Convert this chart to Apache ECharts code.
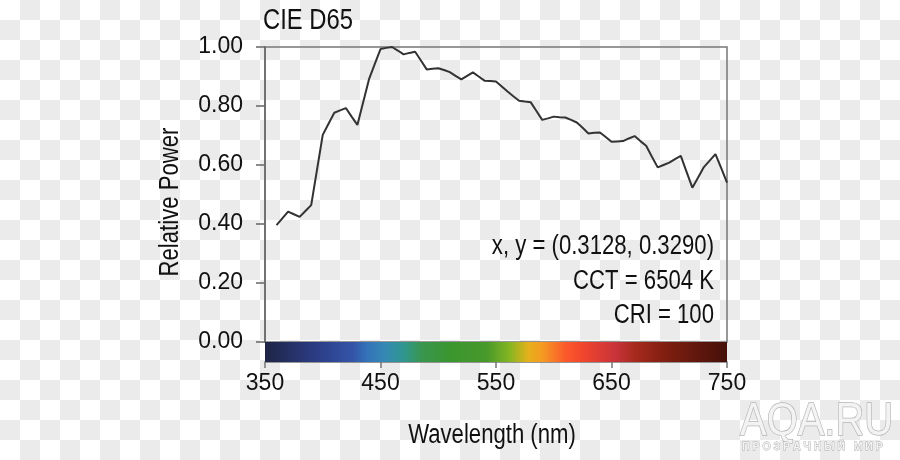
<!DOCTYPE html>
<html>
<head>
<meta charset="utf-8">
<script src="https://cdn.jsdelivr.net/npm/echarts@6/dist/echarts.min.js"></script>
<style>
html,body{margin:0;padding:0;}
body{width:900px;height:460px;background:repeating-conic-gradient(#ebebeb 0 25%, #ffffff 0 50%) 0 0/40px 40px;}
#c{width:900px;height:460px;}
</style>
</head>
<body>
<div id="c"></div>
<script>
// ---- data ----
const wavelengths = [360,365,370,375,380,385,390,395,400,405,410,415,420,425,430,435,440,445,450,455,
  460,465,470,475,480,485,490,495,500,505,510,515,520,525,530,535,540,545,550,555,
  560,565,570,575,580,585,590,595,600,605,610,615,620,625,630,635,640,645,650,655,
  660,665,670,675,680,685,690,695,700,705,710,715,720,725,730,735,740,745,750];
const relPower = [0.396,0.419,0.442,0.433,0.424,0.444,0.464,0.583,0.702,0.740,0.777,0.785,0.793,0.764,0.736,0.813,0.890,0.942,0.993,0.997,
  1.000,0.988,0.975,0.980,0.984,0.954,0.924,0.926,0.928,0.922,0.915,0.902,0.890,0.902,0.914,0.900,0.886,0.885,0.883,0.866,
  0.849,0.833,0.818,0.815,0.813,0.783,0.753,0.758,0.764,0.762,0.761,0.753,0.744,0.726,0.707,0.709,0.710,0.695,0.679,0.680,
  0.681,0.690,0.698,0.681,0.665,0.628,0.592,0.600,0.608,0.620,0.631,0.577,0.523,0.558,0.593,0.615,0.637,0.589,0.540];
const xTicks = [350, 450, 550, 650, 750];
const yTicks = [0.00, 0.20, 0.40, 0.60, 0.80, 1.00];
const barRange = [350, 750];
const barStops = [
  [0.00,'#1f2546'],[0.11,'#2b3c84'],[0.19,'#3454a8'],[0.22,'#3472b8'],[0.26,'#3589b4'],
  [0.30,'#2f9690'],[0.34,'#38964e'],[0.40,'#3b962f'],[0.48,'#47992a'],[0.53,'#86b622'],
  [0.57,'#e4b01b'],[0.60,'#f59a22'],[0.65,'#fb5a2b'],[0.69,'#f0452e'],[0.76,'#c8333a'],
  [0.80,'#a62a1c'],[0.87,'#7e1e10'],[1.00,'#45100a']];
const infoLines = ['x, y = (0.3128, 0.3290)', 'CCT = 6504 K', 'CRI = 100'];
const titleText = 'CIE D65';
const xName = 'Wavelength (nm)';
const yName = 'Relative Power';

const FONT = "'Liberation Sans',Arial,sans-serif";
const NARROW = 0.82;
const chart = echarts.init(document.getElementById('c'), null, {renderer:'canvas'});
const lineData = wavelengths.map((w,i)=>[w, relPower[i]]);

const option = {
  backgroundColor: 'transparent',
  animation: false,
  grid: [
    {left: 265, top: 47, width: 462, height: 295, show: true, borderColor: '#777', borderWidth: 1.5, backgroundColor: 'transparent'},
    {left: 265, top: 342, width: 462, height: 20, show: false}
  ],
  xAxis: [
    {gridIndex: 0, type: 'value', min: xTicks[0], max: xTicks[xTicks.length-1], show: false},
    {gridIndex: 1, type: 'value', min: xTicks[0], max: xTicks[xTicks.length-1], interval: 100,
     axisLine: {show: true, lineStyle: {color: '#777', width: 1.5}},
     axisTick: {show: true, inside: false, length: 6, lineStyle: {color: '#777', width: 1.5}},
     axisLabel: {margin: 10, fontFamily: FONT, fontSize: 23, color: '#111',
       formatter: v => xTicks.includes(v) ? String(v) : ''},
     splitLine: {show: false}}
  ],
  yAxis: [
    {gridIndex: 0, type: 'value', min: yTicks[0], max: yTicks[yTicks.length-1], interval: 0.2,
     axisLine: {show: true, lineStyle: {color: '#666', width: 1.5}},
     axisTick: {show: true, inside: false, length: 9, lineStyle: {color: '#666', width: 1.5}},
     axisLabel: {margin: 22, fontFamily: FONT, fontSize: 23, color: '#111',
       formatter: v => v.toFixed(2)},
     splitLine: {show: false}},
    {gridIndex: 1, type: 'value', min: 0, max: 1, show: false}
  ],
  series: [
    {type: 'custom', xAxisIndex: 1, yAxisIndex: 1, silent: true, z: 1,
     data: [[barRange[0], barRange[1]]],
     encode: {x: [0, 1]},
     renderItem: function(params, api){
       const p0 = api.coord([api.value(0), 0]);
       const p1 = api.coord([api.value(1), 1]);
       return {type: 'rect',
         shape: {x: p0[0], y: p1[1], width: p1[0]-p0[0], height: p0[1]-p1[1]},
         style: {fill: new echarts.graphic.LinearGradient(0,0,1,0, barStops.map(s=>({offset:s[0], color:s[1]})))}};
     }},
    {type: 'line', xAxisIndex: 0, yAxisIndex: 0, data: lineData, showSymbol: false, symbol: 'none',
     lineStyle: {color: '#333', width: 2}, z: 3}
  ],
  graphic: [
    {type: 'text', x: 263, y: 21, scaleX: NARROW, style: {text: titleText, font: '29px ' + FONT, fill: '#111', align: 'left', verticalAlign: 'middle'}},
    {type: 'text', x: 714, y: 247, scaleX: NARROW, style: {text: infoLines[0], font: '27px ' + FONT, fill: '#111', align: 'right', verticalAlign: 'middle'}},
    {type: 'text', x: 714, y: 282, scaleX: NARROW, style: {text: infoLines[1], font: '27px ' + FONT, fill: '#111', align: 'right', verticalAlign: 'middle'}},
    {type: 'text', x: 714, y: 316, scaleX: NARROW, style: {text: infoLines[2], font: '27px ' + FONT, fill: '#111', align: 'right', verticalAlign: 'middle'}},
    {type: 'text', x: 492, y: 436, scaleX: NARROW, style: {text: xName, font: '27px ' + FONT, fill: '#111', align: 'center', verticalAlign: 'middle'}},
    {type: 'text', x: 171, y: 202, rotation: Math.PI/2, scaleX: NARROW, style: {text: yName, font: '27px ' + FONT, fill: '#111', align: 'center', verticalAlign: 'middle'}},
    {type: 'text', x: 740, y: 422, scaleX: 0.85, style: {text: 'AQA.RU', font: '47px ' + FONT, fill: '#f3f3f3', stroke: '#b5b5b5', lineWidth: 1.5, align: 'left', verticalAlign: 'middle'}},
    {type: 'text', x: 742, y: 447, style: {text: 'П Р О З Р А Ч Н Ы Й   М И Р', font: 'bold 10.5px ' + FONT, fill: '#f3f3f3', stroke: '#aaaaaa', lineWidth: 0.8, align: 'left', verticalAlign: 'middle'}}
  ]
};
chart.setOption(option);
</script>
</body>
</html>
